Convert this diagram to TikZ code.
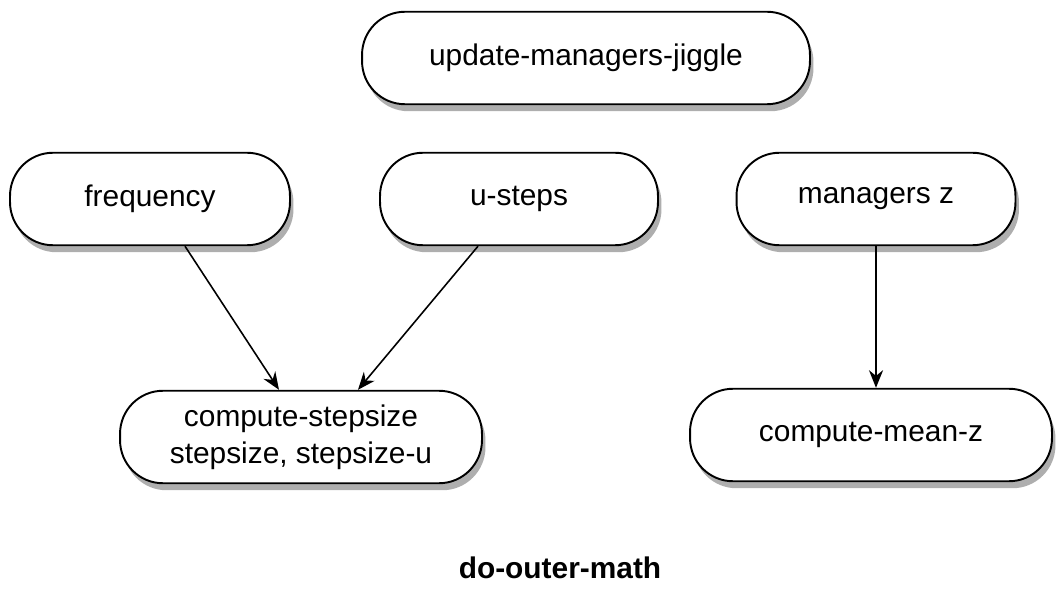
\documentclass[tikz,border=0pt]{standalone}
\usepackage{fontspec}
\setmainfont{Liberation Sans}
\usepackage{tikz}
\usetikzlibrary{arrows.meta,shadows}

\begin{document}
\begin{tikzpicture}[x=0.02cm,y=-0.02cm,
    box/.style={draw,line width=1.1pt,fill=white,rounded corners=0.86cm,
      minimum height=1.85cm,align=center,
      font=\fontsize{17}{21}\selectfont,
      drop shadow={opacity=0.45,fill=black!70,shadow xshift=0.7mm,shadow yshift=-1.4mm}},
    arr/.style={-{Stealth[length=10pt,width=8pt]},line width=0.9pt}]
  \useasboundingbox (0,0) rectangle (1061,614);
  \node[box,minimum width=8.96cm] (jiggle) at (586,58) {update-managers-jiggle};
  \node[box,minimum width=5.6cm] (freq) at (150,199) {frequency};
  \node[box,minimum width=5.56cm] (usteps) at (519,199) {u-steps};
  \node[box,minimum width=5.58cm] (mgrz) at (876,199) {managers z};
  \node[box,minimum width=7.24cm] (stepsize) at (301,437) {compute-stepsize\\stepsize, stepsize-u};
  \node[box,minimum width=7.24cm] (meanz) at (871,435) {compute-mean-z};
  \node[font=\fontsize{17}{21}\selectfont\bfseries] (outer) at (560,568) {do-outer-math};
  \draw[arr] ([xshift=0.7cm]freq.south) -- ([xshift=-0.44cm]stepsize.north);
  \draw[arr] ([xshift=-0.82cm]usteps.south) -- ([xshift=1.14cm]stepsize.north);
  \draw[arr] (mgrz.south) -- (mgrz.south |- meanz.north);
\end{tikzpicture}
\end{document}
